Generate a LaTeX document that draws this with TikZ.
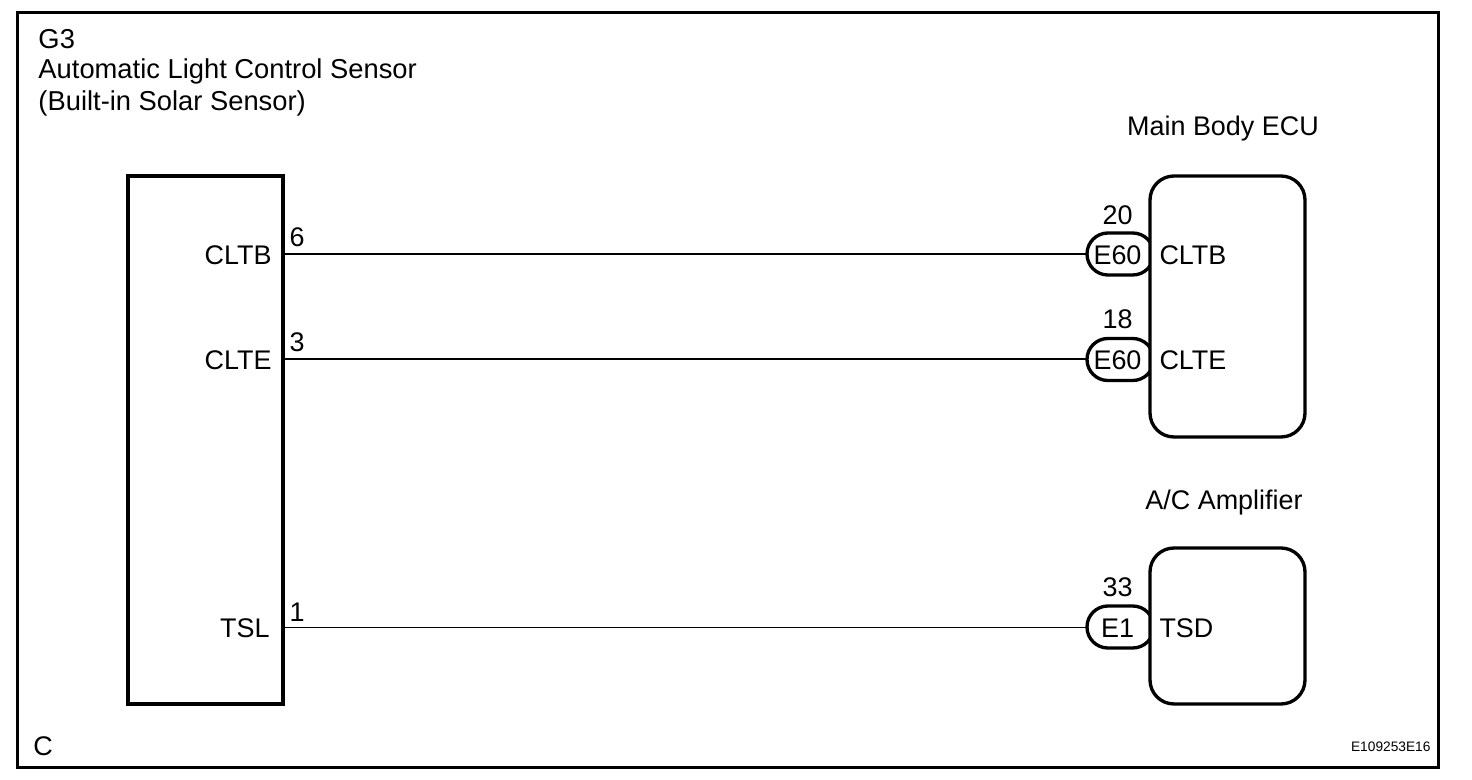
\documentclass[tikz,border=0pt]{standalone}
\usepackage{fontspec}
\setmainfont{Liberation Sans}
\usetikzlibrary{positioning}

\tikzset{every picture/.style={line width=0.75pt}}
\tikzset{
  heavybox/.style={draw,line width=2.5pt,rectangle,inner sep=0pt,outer sep=0pt,anchor=north west},
  ecubox/.style={heavybox,rounded corners=18pt},
  ovalplug/.style={draw,line width=2.5pt,rectangle,rounded corners=15.7pt,minimum width=50pt,minimum height=31.5pt,inner sep=0pt,outer sep=0pt,anchor=west},
  wire/.style={line width=1.5pt},
  thinwire/.style={line width=0.75pt},
  lbl/.style={font=\fontsize{20.2pt}{22pt}\selectfont,inner sep=0pt,anchor=base west},
  lblr/.style={lbl,anchor=base east},
  lblc/.style={lbl,anchor=base},
  titlelbl/.style={lbl,font=\fontsize{20.5pt}{22pt}\selectfont},
  tinylbl/.style={font=\fontsize{10.3pt}{12pt}\selectfont,inner sep=0pt,anchor=base east}
}

\begin{document}
\begin{tikzpicture}[x=0.75pt,y=0.75pt,yscale=-1,xscale=1]
\useasboundingbox (0,0) rectangle (1472,780);

%Shape: Rectangle [frame]
\node (frame) [heavybox,minimum width=1065.75pt,minimum height=566.25pt] at (17.5,12.5) {};
%Shape: Rectangle [sensor]
\node (sensorbox) [heavybox,minimum width=116.25pt,minimum height=396pt] at (128,176) {};
%Shape: Oval [plugs]
\node (cltbplug) [ovalplug] at (1087,254) {};
\node (clteplug) [ovalplug] at (1087,359.5) {};
\node (tsdplug) [ovalplug] at (1087,627) {};
%Shape: Rounded Rectangle [ecu]
\node (ecubox) [ecubox,fill=white,minimum width=116.25pt,minimum height=195.75pt] at (1150,176) {};
%Shape: Rounded Rectangle [amplifier]
\node (ampbox) [ecubox,fill=white,minimum width=116.25pt,minimum height=117pt] at (1150,548) {};

%Free ends of wires
\coordinate (cltbpin) at (283,254);
\coordinate (cltepin) at (283,359.5);
\coordinate (tslpin) at (283,627);

%Straight Lines
\draw [wire] (cltbpin) -- (cltbplug);
\draw [wire] (cltepin) -- (clteplug);
\draw [thinwire] (tslpin) -- (tsdplug);

% Text Node
\draw (38,49) node (g3lbl) [titlelbl] {G3};
% Text Node
\draw (38,79) node (namelbl) [titlelbl] {Automatic Light Control Sensor};
% Text Node
\draw (38,111) node (builtlbl) [titlelbl] {(Built-in Solar Sensor)};
% Text Node
\draw (1223,136) node (ecutitle) [lblc] {Main Body ECU};
% Text Node
\draw (1224,510) node (amptitle) [lblc] {A/C Amplifier};
% Text Node
\draw (272,265) node (cltbleft) [lblr] {CLTB};
% Text Node
\draw (272,370) node (clteleft) [lblr] {CLTE};
% Text Node
\draw (270,638) node (tslleft) [lblr] {TSL};
% Text Node
\draw (289,247) node (pinsix) [lbl] {6};
% Text Node
\draw (289,352) node (pinthree) [lbl] {3};
% Text Node
\draw (289,621) node (pinone) [lbl] {1};
% Text Node
\draw (1117.5,225) node (pintwenty) [lblc] {20};
% Text Node
\draw (1117.5,329) node (pineighteen) [lblc] {18};
% Text Node
\draw (1117.5,597) node (pinthirtythree) [lblc] {33};
% Text Node
\draw (1117.5,265) node (cltbconn) [lblc] {E60};
% Text Node
\draw (1117.5,370) node (clteconn) [lblc] {E60};
% Text Node
\draw (1117.5,638) node (tsdconn) [lblc] {E1};
% Text Node
\draw (1159,265) node (cltbright) [lbl] {CLTB};
% Text Node
\draw (1159,370) node (clteright) [lbl] {CLTE};
% Text Node
\draw (1159,638) node (tsdright) [lbl] {TSD};
% Text Node
\draw (33,755) node (clbl) [lbl] {C};
% Text Node
\draw (1431,751) node (reflbl) [tinylbl] {E109253E16};

\end{tikzpicture}
\end{document}
